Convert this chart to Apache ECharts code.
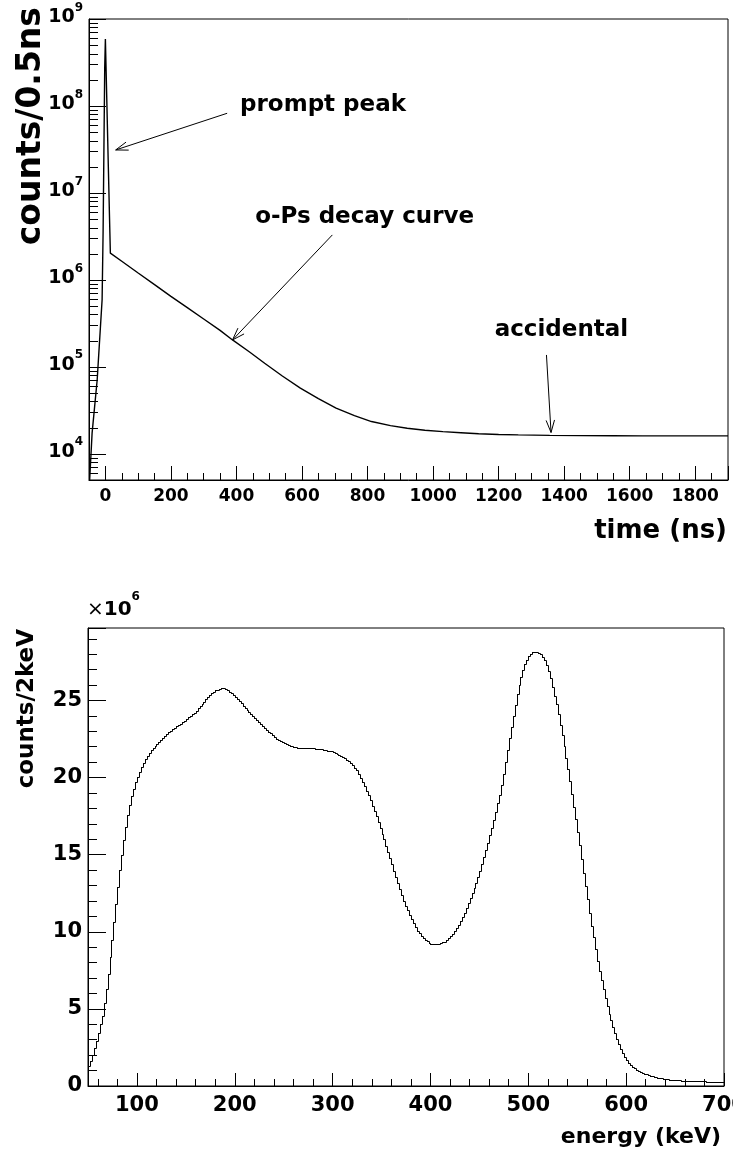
<!DOCTYPE html>
<html><head><meta charset="utf-8">
<script src="https://cdn.jsdelivr.net/npm/echarts@6/dist/echarts.min.js"></script>
<style>html,body{margin:0;padding:0;background:#fff}#c{width:733px;height:1153px}</style>
</head><body><div id="c"></div>
<script>
// ---------- top panel: time spectrum (counts / 0.5 ns) ----------
const timeNs = [-50, -48, -40.5, -25, -10, -7, -4, -2, 0, 4.3, 9, 13.7, 15.2,
  50, 100, 150, 200, 250, 300, 350, 388, 440, 486, 540, 595, 650, 704,
  760, 812, 870, 921, 975, 1030, 1085, 1139, 1200, 1260, 1356, 1450, 1550, 1639, 1750, 1900];
const countsPerHalfNs = [4.0e3, 5.0e3, 1.74e4, 7.1e4, 5.9e5, 3.5e6, 4.9e7, 2.8e8, 5.9e8, 1.17e8, 2.0e7, 3.5e6, 2.03e6,
  1.64e6, 1.20e6, 8.81e5, 6.46e5, 4.79e5, 3.55e5, 2.63e5, 2.04e5, 1.48e5, 1.10e5, 7.85e4, 5.69e4, 4.32e4, 3.35e4,
  2.75e4, 2.35e4, 2.11e4, 1.97e4, 1.87e4, 1.80e4, 1.75e4, 1.70e4, 1.67e4, 1.65e4, 1.63e4, 1.62e4, 1.615e4, 1.61e4, 1.607e4, 1.607e4];
const logDecades = [1e3, 1e4, 1e5, 1e6, 1e7, 1e8];
const logMinorMantissas = [2, 3, 4, 5, 6, 7, 8, 9];
const annotationTexts = ['prompt peak', 'o-Ps decay curve', 'accidental'];

// ---------- bottom panel: energy spectrum (counts / 2 keV, in units of 10^6) ----------
const energyLowEdgeKeV = 50;
const energyBinWidthKeV = 2;
const countsPer2keV = [
  1.28,1.65,2.02,2.46,2.93,3.44,3.99,4.56,5.38,6.26,
  7.28,8.36,9.50,10.64,11.78,12.92,14.0,15.01,15.92,16.80,
  17.55,18.23,18.81,19.29,19.73,20.05,20.36,20.68,20.95,21.2,
  21.40,21.6,21.78,21.94,22.07,22.2,22.31,22.43,22.55,22.69,
  22.82,22.96,23.05,23.15,23.24,23.33,23.41,23.49,23.58,23.69,
  23.79,23.9,24.01,24.12,24.22,24.35,24.5,24.64,24.79,24.93,
  25.08,25.22,25.35,25.46,25.56,25.66,25.71,25.76,25.81,25.8,
  25.75,25.68,25.57,25.46,25.34,25.21,25.09,24.96,24.81,24.66,
  24.51,24.38,24.24,24.1,23.97,23.84,23.72,23.59,23.46,23.33,
  23.21,23.09,22.97,22.86,22.75,22.64,22.53,22.43,22.36,22.29,
  22.22,22.16,22.11,22.07,22.03,22.0,21.97,21.95,21.94,21.93,
  21.92,21.92,21.91,21.91,21.9,21.89,21.88,21.87,21.85,21.83,
  21.8,21.78,21.75,21.73,21.7,21.67,21.61,21.54,21.48,21.41,
  21.35,21.26,21.17,21.08,20.96,20.8,20.64,20.49,20.23,19.99,
  19.74,19.47,19.16,18.84,18.52,18.17,17.83,17.48,17.11,16.74,
  16.37,15.99,15.58,15.18,14.77,14.37,13.95,13.54,13.14,12.76,
  12.38,12.02,11.69,11.39,11.08,10.8,10.55,10.3,10.04,9.89,
  9.73,9.57,9.46,9.38,9.3,9.23,9.21,9.2,9.19,9.2,
  9.25,9.31,9.37,9.48,9.59,9.7,9.88,10.07,10.26,10.47,
  10.72,10.97,11.22,11.54,11.85,12.17,12.5,12.84,13.18,13.53,
  13.97,14.41,14.85,15.31,15.78,16.26,16.74,17.27,17.8,18.33,
  18.9,19.55,20.25,21.0,21.8,22.55,23.3,24.0,24.7,25.4,
  26.0,26.5,26.95,27.35,27.65,27.87,28.03,28.12,28.17,28.17,
  28.1,28.01,27.82,27.6,27.28,26.9,26.45,25.9,25.3,24.75,
  24.1,23.42,22.75,22.07,21.3,20.55,19.77,18.95,18.06,17.3,
  16.5,15.62,14.75,13.83,12.97,12.1,11.22,10.38,9.63,8.88,
  8.11,7.48,6.87,6.3,5.73,5.16,4.7,4.27,3.83,3.42,
  3.04,2.71,2.4,2.14,1.88,1.68,1.5,1.34,1.24,1.15,
  1.06,0.98,0.92,0.86,0.8,0.75,0.7,0.66,0.62,0.58,
  0.56,0.53,0.51,0.49,0.47,0.45,0.43,0.42,0.41,0.39,
  0.38,0.37,0.36,0.35,0.34,0.34,0.33,0.33,0.32,0.32,
  0.31,0.31,0.3,0.3,0.3,0.3,0.29,0.29,0.29,0.29,
  0.28,0.28,0.28,0.28,0.28
];

// ---------- chart construction ----------
const FONT = "'DejaVu Sans', sans-serif";
const TIME_MIN = -50, TIME_MAX = 1900, COUNT_MIN = 5000, COUNT_MAX = 1e9;

const timeLine = timeNs.map((t, i) => [t, countsPerHalfNs[i]]);
const minorTickData = [];
logDecades.forEach(d => logMinorMantissas.forEach(m => {
  const v = d * m;
  if (v > COUNT_MIN && v < COUNT_MAX) minorTickData.push([TIME_MIN, v]);
}));
// histogram bins: [low edge, high edge, content, content of next bin]
const histBins = countsPer2keV.map((v, i) => {
  const lo = energyLowEdgeKeV + i * energyBinWidthKeV;
  const next = i + 1 < countsPer2keV.length ? countsPer2keV[i + 1] : v;
  return [lo, lo + energyBinWidthKeV, v, next];
});

const black = {color: '#000', width: 1};
const lbl = {color: '#000', fontFamily: FONT, fontWeight: 'bold'};
const snap = p => [Math.round(p[0]) + 0.5, Math.round(p[1]) + 0.5];

function renderArrow(params, api) {
  const a = api.coord([api.value(0), api.value(1)]);
  const b = api.coord([api.value(2), api.value(3)]);
  const ang = Math.atan2(b[1] - a[1], b[0] - a[0]);
  const L = 13, sp = 0.33;
  const h1 = [b[0] - L * Math.cos(ang - sp), b[1] - L * Math.sin(ang - sp)];
  const h2 = [b[0] - L * Math.cos(ang + sp), b[1] - L * Math.sin(ang + sp)];
  return {type: 'group', children: [
    {type: 'line', shape: {x1: a[0], y1: a[1], x2: b[0], y2: b[1]}, style: {stroke: '#000', lineWidth: 1}},
    {type: 'polyline', shape: {points: [h1, b, h2]}, style: {stroke: '#000', fill: null, lineWidth: 1}}
  ]};
}
function renderMinorTick(params, api) {
  const p = api.coord([api.value(0), api.value(1)]);
  const y = Math.round(p[1]) + 0.5;
  return {type: 'line', shape: {x1: p[0], y1: y, x2: p[0] + 9, y2: y}, style: {stroke: '#000', lineWidth: 1}};
}
function renderBin(params, api) {
  const lo = api.value(0), hi = api.value(1), v = api.value(2), vn = api.value(3);
  const p1 = snap(api.coord([lo, v]));
  const p2 = snap(api.coord([hi, v]));
  const p3 = snap(api.coord([hi, vn]));
  return {type: 'polyline', shape: {points: [[p1[0] - 0.5, p1[1]], p2, p3]}, style: {stroke: '#000', fill: null, lineWidth: 1}};
}

const chart = echarts.init(document.getElementById('c'), null, {renderer: 'canvas'});
chart.setOption({
  animation: false,
  backgroundColor: '#fff',
  grid: [
    {left: 89, top: 19, width: 639, height: 461, show: true, borderColor: '#000', borderWidth: 1, backgroundColor: 'transparent', containLabel: false, outerBoundsMode: 'none'},
    {left: 88, top: 628, width: 636, height: 458, show: true, borderColor: '#000', borderWidth: 1, backgroundColor: 'transparent', containLabel: false, outerBoundsMode: 'none'}
  ],
  xAxis: [
    {gridIndex: 0, type: 'value', min: TIME_MIN, max: TIME_MAX, minInterval: 200, maxInterval: 200,
     axisLine: {show: true, onZero: false, lineStyle: black},
     axisTick: {show: true, inside: true, length: 14, lineStyle: black},
     minorTick: {show: true, splitNumber: 4, length: 7, lineStyle: black},
     axisLabel: Object.assign({}, lbl, {fontSize: 17, margin: 8, formatter: v => (v % 200 === 0 ? String(v) : '')}),
     splitLine: {show: false}, minorSplitLine: {show: false}},
    {gridIndex: 1, type: 'value', min: 50, max: 700, minInterval: 100, maxInterval: 100,
     axisLine: {show: true, onZero: false, lineStyle: black},
     axisTick: {show: true, inside: true, length: 13, lineStyle: black},
     minorTick: {show: true, splitNumber: 5, length: 7, lineStyle: black},
     axisLabel: Object.assign({}, lbl, {fontSize: 21, margin: 9, formatter: v => (v % 100 === 0 ? String(v) : '')}),
     splitLine: {show: false}, minorSplitLine: {show: false}}
  ],
  yAxis: [
    {gridIndex: 0, type: 'log', logBase: 10, min: COUNT_MIN, max: COUNT_MAX,
     axisLine: {show: true, onZero: false, lineStyle: black},
     axisTick: {show: true, inside: true, length: 17, lineStyle: black},
     minorTick: {show: false},
     axisLabel: Object.assign({}, lbl, {margin: 6,
       formatter: v => { const l = Math.log10(v); const n = Math.round(l); return Math.abs(l - n) < 1e-6 ? `{b|10}{s|${n}}` : ''; },
       rich: {
         b: {fontSize: 19, lineHeight: 19, fontFamily: FONT, fontWeight: 'bold', color: '#000', padding: [11, 0, 2, 0], verticalAlign: 'bottom'},
         s: {fontSize: 12, lineHeight: 12, fontFamily: FONT, fontWeight: 'bold', color: '#000', padding: [5, 0, 15, 0], verticalAlign: 'bottom'}
       }}),
     splitLine: {show: false}},
    {gridIndex: 1, type: 'value', min: 0, max: 29.7, minInterval: 5, maxInterval: 5,
     axisLine: {show: true, onZero: false, lineStyle: black},
     axisTick: {show: true, inside: true, length: 18, lineStyle: black},
     minorTick: {show: true, splitNumber: 5, length: 9, lineStyle: black},
     axisLabel: Object.assign({}, lbl, {fontSize: 21, margin: 6, formatter: v => (Math.abs(v % 5) < 1e-9 ? String(v) : '')}),
     splitLine: {show: false}, minorSplitLine: {show: false}}
  ],
  series: [
    {type: 'line', xAxisIndex: 0, yAxisIndex: 0, data: timeLine, showSymbol: false, symbol: 'none',
     lineStyle: {color: '#000', width: 1.4}, clip: true, silent: true,
     markPoint: {symbol: 'rect', symbolSize: 0, silent: true,
       label: {show: true, position: 'right', distance: 0, formatter: '{b}', color: '#000', fontFamily: FONT, fontWeight: 'bold', fontSize: 23},
       data: [
         {name: annotationTexts[0], coord: [411, 1.03e8]},
         {name: annotationTexts[1], coord: [457, 5.3e6]},
         {name: annotationTexts[2], coord: [1188, 2.66e5]}
       ]}},
    {type: 'custom', xAxisIndex: 0, yAxisIndex: 0, renderItem: renderArrow, silent: true,
     encode: {x: [0, 2], y: [1, 3]},
     data: [[371.6, 8.24e7, 31.4, 3.12e7], [692.6, 3.29e6, 388, 2.04e5], [1346, 1.37e5, 1360, 1.76e4]]},
    {type: 'custom', xAxisIndex: 0, yAxisIndex: 0, renderItem: renderMinorTick, silent: true,
     encode: {x: 0, y: 1}, data: minorTickData},
    {type: 'custom', xAxisIndex: 1, yAxisIndex: 1, renderItem: renderBin, silent: true, clip: true,
     encode: {x: [0, 1], y: [2, 3]}, data: histBins}
  ],
  graphic: [
    {type: 'text', x: 31, y: 7, rotation: Math.PI / 2, silent: true,
     style: {text: 'counts/0.5ns', fill: '#000', font: `bold 33px ${FONT}`, align: 'right', verticalAlign: 'middle'}},
    {type: 'text', x: 727, y: 531, silent: true,
     style: {text: 'time (ns)', fill: '#000', font: `bold 26px ${FONT}`, align: 'right', verticalAlign: 'middle'}},
    {type: 'text', x: 27, y: 629, rotation: Math.PI / 2, silent: true,
     style: {text: 'counts/2keV', fill: '#000', font: `bold 23px ${FONT}`, align: 'right', verticalAlign: 'middle'}},
    {type: 'text', x: 721, y: 1137, silent: true,
     style: {text: 'energy (keV)', fill: '#000', font: `bold 22px ${FONT}`, align: 'right', verticalAlign: 'middle'}},
    {type: 'text', x: 87, y: 612, silent: true,
     style: {text: '{m|×}{b|10}{s|6}', align: 'left', verticalAlign: 'middle',
       rich: {
         m: {fontSize: 20, lineHeight: 20, fontFamily: FONT, fontWeight: 'normal', fill: '#000', color: '#000', padding: [10, 0, 2, 0], verticalAlign: 'bottom'},
         b: {fontSize: 20, lineHeight: 20, fontFamily: FONT, fontWeight: 'bold', fill: '#000', color: '#000', padding: [10, 0, 2, 0], verticalAlign: 'bottom'},
         s: {fontSize: 12, lineHeight: 12, fontFamily: FONT, fontWeight: 'bold', fill: '#000', color: '#000', padding: [1, 0, 19, 0], verticalAlign: 'bottom'}
       }}}
  ]
});
</script></body></html>
